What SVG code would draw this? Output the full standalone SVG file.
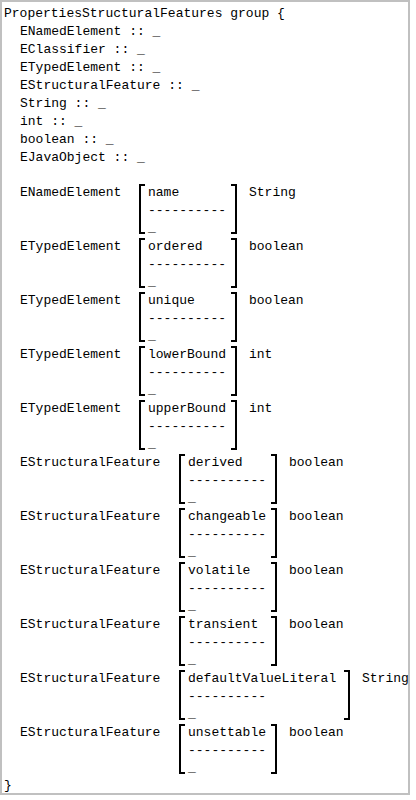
<svg xmlns="http://www.w3.org/2000/svg" width="416" height="800" viewBox="0 0 416 800">
<style>
text{font-family:"Liberation Mono","Courier New",monospace;font-size:13px;fill:#000;}
.br{fill:none;stroke:#000;stroke-width:2;stroke-linejoin:miter;stroke-linecap:butt;}
</style>
<rect x="0" y="0" width="416" height="800" fill="#fff"/>
<rect x="1" y="1" width="408" height="793" fill="#fff" stroke="#c0c0c0" stroke-width="2"/>
<g id="header">
<text x="4" y="17">PropertiesStructuralFeatures group {</text>
<text x="20" y="35">ENamedElement :: _</text>
<text x="20" y="53">EClassifier :: _</text>
<text x="20" y="71">ETypedElement :: _</text>
<text x="20" y="89">EStructuralFeature :: _</text>
<text x="20" y="107">String :: _</text>
<text x="20" y="125">int :: _</text>
<text x="20" y="143">boolean :: _</text>
<text x="20" y="161">EJavaObject :: _</text>
</g>
<g id="name">
<text x="20" y="196">ENamedElement</text>
<path class="br" d="M145,185H140V233H145"/>
<text x="148" y="196">name</text><text x="148" y="213.5">----------</text><text x="148" y="231">_</text>
<path class="br" d="M231,185H236V233H231"/>
<text x="249" y="196">String</text>
</g>
<g id="ordered">
<text x="20" y="250">ETypedElement</text>
<path class="br" d="M145,239H140V287H145"/>
<text x="148" y="250">ordered</text><text x="148" y="267.5">----------</text><text x="148" y="285">_</text>
<path class="br" d="M231,239H236V287H231"/>
<text x="249" y="250">boolean</text>
</g>
<g id="unique">
<text x="20" y="304">ETypedElement</text>
<path class="br" d="M145,293H140V341H145"/>
<text x="148" y="304">unique</text><text x="148" y="321.5">----------</text><text x="148" y="339">_</text>
<path class="br" d="M231,293H236V341H231"/>
<text x="249" y="304">boolean</text>
</g>
<g id="lowerBound">
<text x="20" y="358">ETypedElement</text>
<path class="br" d="M145,347H140V395H145"/>
<text x="148" y="358">lowerBound</text><text x="148" y="375.5">----------</text><text x="148" y="393">_</text>
<path class="br" d="M231,347H236V395H231"/>
<text x="249" y="358">int</text>
</g>
<g id="upperBound">
<text x="20" y="412">ETypedElement</text>
<path class="br" d="M145,401H140V449H145"/>
<text x="148" y="412">upperBound</text><text x="148" y="429.5">----------</text><text x="148" y="447">_</text>
<path class="br" d="M231,401H236V449H231"/>
<text x="249" y="412">int</text>
</g>
<g id="derived">
<text x="20" y="466">EStructuralFeature</text>
<path class="br" d="M185,455H180V503H185"/>
<text x="188" y="466">derived</text><text x="188" y="483.5">----------</text><text x="188" y="501">_</text>
<path class="br" d="M271,455H276V503H271"/>
<text x="289" y="466">boolean</text>
</g>
<g id="changeable">
<text x="20" y="520">EStructuralFeature</text>
<path class="br" d="M185,509H180V557H185"/>
<text x="188" y="520">changeable</text><text x="188" y="537.5">----------</text><text x="188" y="555">_</text>
<path class="br" d="M271,509H276V557H271"/>
<text x="289" y="520">boolean</text>
</g>
<g id="volatile">
<text x="20" y="574">EStructuralFeature</text>
<path class="br" d="M185,563H180V611H185"/>
<text x="188" y="574">volatile</text><text x="188" y="591.5">----------</text><text x="188" y="609">_</text>
<path class="br" d="M271,563H276V611H271"/>
<text x="289" y="574">boolean</text>
</g>
<g id="transient">
<text x="20" y="628">EStructuralFeature</text>
<path class="br" d="M185,617H180V665H185"/>
<text x="188" y="628">transient</text><text x="188" y="645.5">----------</text><text x="188" y="663">_</text>
<path class="br" d="M271,617H276V665H271"/>
<text x="289" y="628">boolean</text>
</g>
<g id="defaultValueLiteral">
<text x="20" y="682">EStructuralFeature</text>
<path class="br" d="M185,671H180V719H185"/>
<text x="188" y="682">defaultValueLiteral</text><text x="188" y="699.5">----------</text><text x="188" y="717">_</text>
<path class="br" d="M344,671H349V719H344"/>
<text x="362" y="682">String</text>
</g>
<g id="unsettable">
<text x="20" y="736">EStructuralFeature</text>
<path class="br" d="M185,725H180V773H185"/>
<text x="188" y="736">unsettable</text><text x="188" y="753.5">----------</text><text x="188" y="771">_</text>
<path class="br" d="M271,725H276V773H271"/>
<text x="289" y="736">boolean</text>
</g>
<g id="footer">
<text x="4" y="789">}</text>
</g>
</svg>
